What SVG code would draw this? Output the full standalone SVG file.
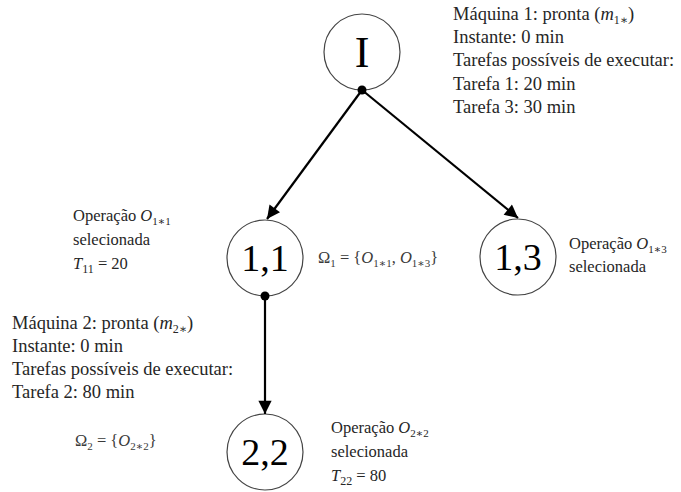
<svg xmlns="http://www.w3.org/2000/svg" width="681" height="492" viewBox="0 0 681 492">
<style>
.node{fill:#fff;stroke:#444;stroke-width:1.2}
.lbl{font-family:"Liberation Serif","DejaVu Serif","Times New Roman",serif;fill:#000;text-anchor:middle}
.t{font-family:"Liberation Serif","DejaVu Serif","Times New Roman",serif;font-size:18.5px;fill:#262626}
.op{font-family:"Liberation Serif","DejaVu Serif","Times New Roman",serif;font-size:16.5px;fill:#262626}
.m{font-family:"Liberation Serif","DejaVu Serif","Times New Roman",serif;font-size:16.5px;fill:#3a3a3a}
.i{font-style:italic}
.edge{stroke:#000;stroke-width:2.2;fill:none}
</style>
<defs>
<marker id="ah" viewBox="0 0 10 10" refX="10" refY="5" markerWidth="6.5" markerHeight="6" orient="auto" markerUnits="strokeWidth">
<path d="M0,0 L10,5 L0,10 z" fill="#000"/>
</marker>
</defs>
<g id="node-I">
<circle class="node" cx="362" cy="52" r="38"/>
<text class="lbl" x="362" y="67" font-size="44">I</text>
</g>
<g id="node-1-1">
<circle class="node" cx="265" cy="258" r="38"/>
<text class="lbl" x="265" y="271" font-size="38">1,1</text>
</g>
<g id="node-1-3">
<circle class="node" cx="518" cy="257" r="38"/>
<text class="lbl" x="518" y="270" font-size="38">1,3</text>
</g>
<g id="node-2-2">
<circle class="node" cx="265" cy="452" r="38"/>
<text class="lbl" x="265" y="465" font-size="38">2,2</text>
</g>
<g id="connectors">
<line class="edge" x1="362" y1="90" x2="267" y2="219" marker-end="url(#ah)"/>
<line class="edge" x1="362" y1="90" x2="518" y2="218" marker-end="url(#ah)"/>
<line class="edge" x1="265" y1="296" x2="265" y2="414" marker-end="url(#ah)"/>
<circle cx="362" cy="90" r="4.5" fill="#000"/>
<circle cx="265" cy="296" r="4.5" fill="#000"/>
</g>
<g id="labels">
<text class="t" x="453" y="20">Máquina 1: pronta (<tspan class="i">m</tspan><tspan font-size="12" dy="4">1∗</tspan><tspan dy="-4">)</tspan></text>
<text class="t" x="453" y="43">Instante: 0 min</text>
<text class="t" x="453" y="66">Tarefas possíveis de executar:</text>
<text class="t" x="453" y="90">Tarefa 1: 20 min</text>
<text class="t" x="453" y="113">Tarefa 3: 30 min</text>

<text class="op" x="73" y="221">Operação <tspan class="i">O</tspan><tspan font-size="11" dy="4">1∗1</tspan></text>
<text class="op" x="73" y="245">selecionada</text>
<text class="op" x="73" y="269"><tspan class="i">T</tspan><tspan font-size="12" dy="4">11</tspan><tspan dy="-4"> = 20</tspan></text>

<text class="m" x="318" y="263">Ω<tspan font-size="11" dy="4">1</tspan><tspan dy="-4"> = {</tspan><tspan class="i">O</tspan><tspan font-size="11" dy="4">1∗1</tspan><tspan dy="-4">, </tspan><tspan class="i">O</tspan><tspan font-size="11" dy="4">1∗3</tspan><tspan dy="-4">}</tspan></text>

<text class="op" x="569" y="249">Operação <tspan class="i">O</tspan><tspan font-size="11" dy="4">1∗3</tspan></text>
<text class="op" x="569" y="272">selecionada</text>

<text class="t" x="12" y="329">Máquina 2: pronta (<tspan class="i">m</tspan><tspan font-size="12" dy="4">2∗</tspan><tspan dy="-4">)</tspan></text>
<text class="t" x="12" y="352">Instante: 0 min</text>
<text class="t" x="12" y="375">Tarefas possíveis de executar:</text>
<text class="t" x="12" y="398">Tarefa 2: 80 min</text>

<text class="m" x="75" y="446">Ω<tspan font-size="11" dy="4">2</tspan><tspan dy="-4"> = {</tspan><tspan class="i">O</tspan><tspan font-size="11" dy="4">2∗2</tspan><tspan dy="-4">}</tspan></text>

<text class="op" x="331" y="433">Operação <tspan class="i">O</tspan><tspan font-size="11" dy="4">2∗2</tspan></text>
<text class="op" x="331" y="457">selecionada</text>
<text class="op" x="331" y="481"><tspan class="i">T</tspan><tspan font-size="12" dy="4">22</tspan><tspan dy="-4"> = 80</tspan></text>
</g>
</svg>
